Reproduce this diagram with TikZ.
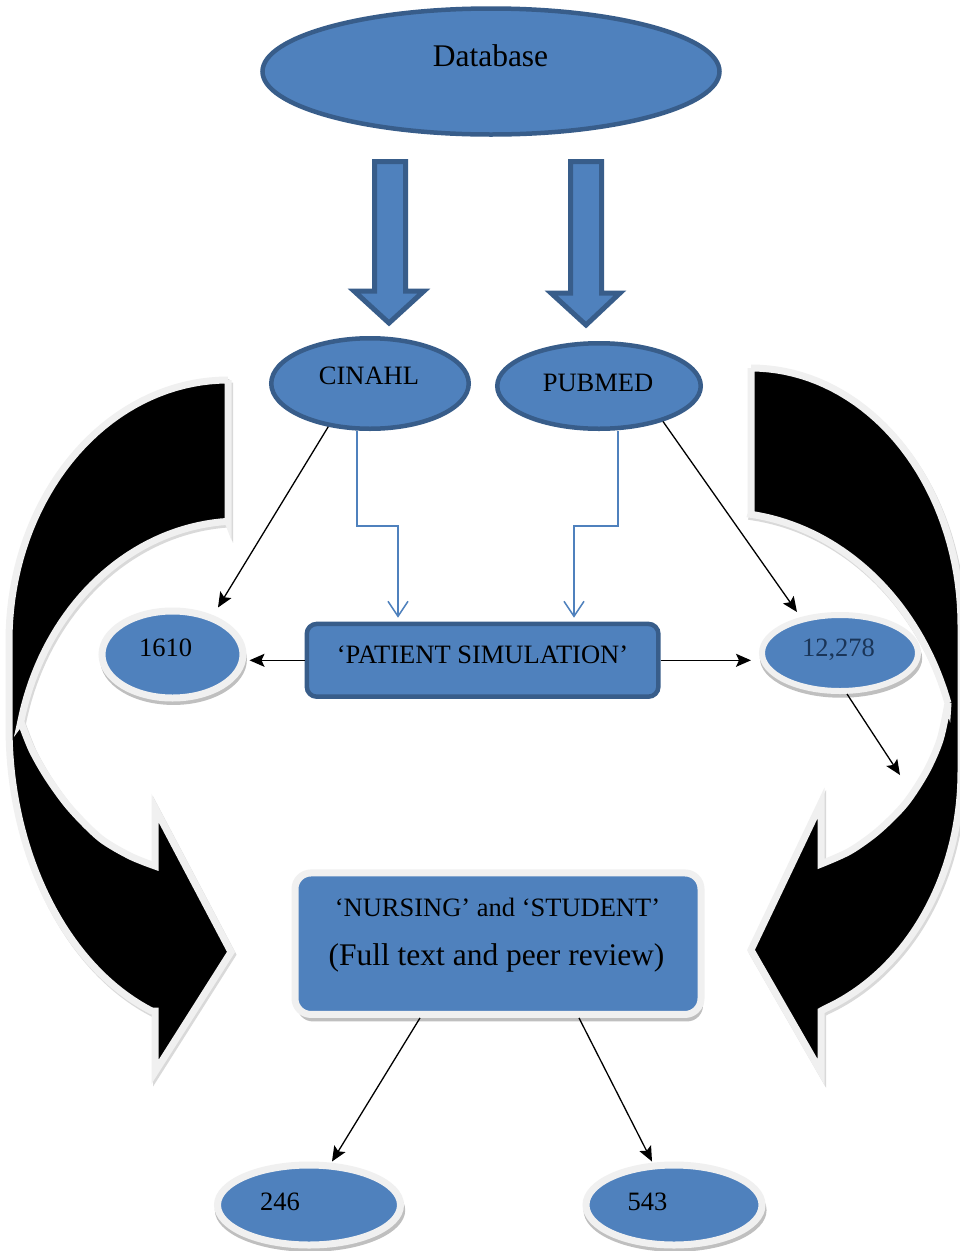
\documentclass[tikz,border=0pt]{standalone}
\usepackage{fontspec}
\setmainfont{Liberation Serif}
\usetikzlibrary{shapes.geometric, arrows.meta, shadows}
\definecolor{bfill}{HTML}{4F81BD}
\definecolor{bdark}{HTML}{385D8A}
\definecolor{ringc}{HTML}{F0F0F0}
\definecolor{navy}{HTML}{1A3558}
\definecolor{conblue}{HTML}{4F81BD}

\newcommand\leftbigpath{(228,380) -- (228,521.4)
 -- plot[domain=93.06:167, samples=40] ({240+225*cos(\x)}, {780-259*sin(\x)})
 -- plot[smooth] coordinates {(20.8,721.7) (32,750) (48,778) (70,808) (100,838) (130,856) (155,866)}
 -- (155,808) -- (231,952) -- (155,1072) -- (155,1011)
 -- plot[domain=69.6:0, samples=40] ({228-219*cos(\x)}, {727+303*sin(\x)})
 -- (9,641)
 -- plot[domain=180:90, samples=40] ({228+219*cos(\x)}, {641-261*sin(\x)})
 -- cycle}

\newcommand\rightbigpath{(751,368) -- (751,514)
 -- plot[domain=82.6:18.2, samples=40] ({720+240*cos(\x)}, {790-278*sin(\x)})
 -- plot[smooth] coordinates {(948,703) (940,740) (926,772) (905,804) (878,831) (850,851) (821,864)}
 -- (821,803) -- (751,950) -- (821,1072) -- (821,1011)
 -- plot[domain=69.2:0, samples=40] ({751+210*cos(\x)}, {772+253*sin(\x)})
 -- (961,625)
 -- plot[domain=0:90, samples=40] ({751+210*cos(\x)}, {625-257*sin(\x)})
 -- cycle}

\begin{document}
\begin{tikzpicture}[x=1pt, y=-1pt,
  darkshape/.style={draw=bdark, fill=bfill, line width=4.5pt, inner sep=0pt},
  ringbase/.style={draw=ringc, fill=bfill, line width=7pt, inner sep=0pt},
  ringshape/.style={ringbase,
     drop shadow={shadow xshift=1pt, shadow yshift=-5pt, shadow scale=1.04, fill=black, opacity=0.25}},
  ringbox/.style={ringbase,
     drop shadow={shadow xshift=2pt, shadow yshift=-7pt, fill=black, opacity=0.25}},
  lbl/.style={inner sep=0pt, font=\fontsize{26.5}{30}\selectfont},
  biglbl/.style={inner sep=0pt, font=\fontsize{31.5}{36}\selectfont},
  blk/.style={line width=1.3pt, -{Stealth[length=15pt, width=13pt, inset=3pt]}},
  bluec/.style={draw=conblue, line width=1.5pt, -{Straight Barb[length=15pt, width=20pt]}},
  bigarrow/.style={fill=black, draw=ringc, line width=7pt, line join=miter},
  bigshadow/.style={draw=gray!30, line width=7pt, line join=miter},
  blockarrow/.style={fill=bfill, draw=bdark, line width=5pt, line join=miter}
]
\fill[white] (0,0) rectangle (960,1251);
\useasboundingbox (0,0) rectangle (960,1251);

% big curved black arrows
\draw[bigshadow, shift={(1.5,2.5)}] \leftbigpath;
\filldraw[bigarrow] \leftbigpath;
\draw[bigshadow, shift={(1.5,2.5)}] \rightbigpath;
\filldraw[bigarrow] \rightbigpath;

% block arrows
\filldraw[blockarrow] (374.5,161.5) -- (405.5,161.5) -- (405.5,291) -- (424,291) -- (389,323) -- (354,291) -- (374.5,291) -- cycle;
\filldraw[blockarrow] (570.5,161.5) -- (601.5,161.5) -- (601.5,293) -- (620,293) -- (586,325) -- (551,293) -- (570.5,293) -- cycle;

% shapes
\node[darkshape, ellipse, minimum width=457pt, minimum height=126pt] (db) at (491,71.5) {};
\node[darkshape, ellipse, minimum width=197.5pt, minimum height=90.5pt] (cin) at (370,383.5) {};
\node[darkshape, ellipse, minimum width=203.5pt, minimum height=85.5pt] (pub) at (599,386) {};
\node[darkshape, rectangle, rounded corners=10pt, minimum width=351.6pt, minimum height=72.8pt] (ps) at (482.6,660.3) {};
\node[ringshape, ellipse, minimum width=141pt, minimum height=87pt] (n1610) at (172.5,654.5) {};
\node[ringshape, ellipse, line width=6pt, minimum width=156pt, minimum height=76pt] (n12278) at (840,653) {};
\node[ringbox, rectangle, rounded corners=16pt, minimum width=406pt, minimum height=141.5pt] (nurs) at (498,943.7) {};
\node[ringshape, ellipse, minimum width=183pt, minimum height=80pt] (n246) at (309,1205) {};
\node[ringshape, ellipse, minimum width=176pt, minimum height=80pt] (n543) at (674,1205) {};

% texts
\node[biglbl] (tdb) at (490.5,56) {Database};
\node[lbl] (tcin) at (369,376) {CINAHL};
\node[lbl] (tpub) at (598,383) {PUBMED};
\node[lbl] (tps) at (482.5,655) {‘PATIENT SIMULATION’};
\node[lbl] (t1610) at (165.5,648) {1610};
\node[lbl, text=navy] (t12278) at (838.5,650) {12,278};
\node[lbl] (tn1) at (497.5,907.5) {‘NURSING’ and ‘STUDENT’};
\node[biglbl] (tn2) at (496.5,957.5) {(Full text and peer review)};
\node[lbl] (t246) at (280,1202) {246};
\node[lbl] (t543) at (647.5,1202) {543};

% connectors
\draw[bluec, shorten >=4pt] (cin.south -| 357,0) -- (357,526) -- (398,526) -- (ps.north -| 398,0);
\draw[bluec, shorten >=4pt] (pub.south -| 618,0) -- (618,526) -- (574,526) -- (ps.north -| 574,0);

\draw[blk] (cin.226) -- (n1610.north -| 218,0);
\draw[blk] (pub.331) -- (n12278.north -| 797,0);
\draw[blk, shorten >=3pt] (ps.west) -- (ps.west -| n1610.east);
\draw[blk, shorten >=8pt] (ps.east) -- (ps.east -| n12278.west);
\coordinate (e12278) at (900,775);
\draw[blk] (n12278.south -| 847,0) -- (e12278);
\draw[blk] (nurs.south -| 420,0) -- (n246.north -| 332,0);
\draw[blk] (nurs.south -| 579,0) -- (n543.north -| 652,0);
\end{tikzpicture}
\end{document}
